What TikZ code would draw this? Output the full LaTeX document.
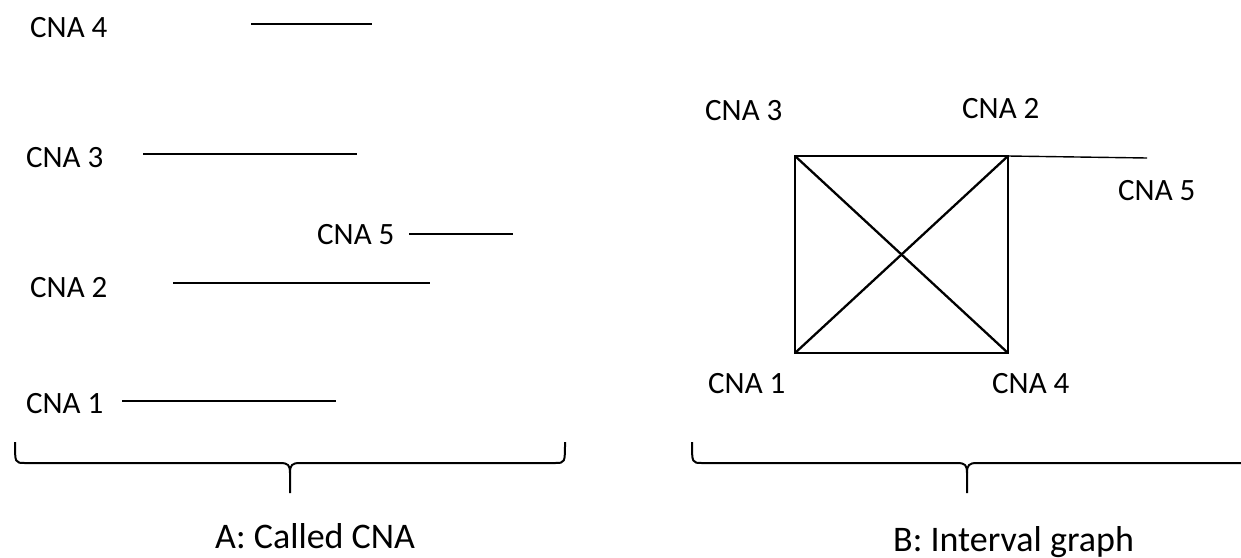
\documentclass[tikz,border=0pt]{standalone}
\usepackage{fontspec}
\setmainfont{Carlito}
\begin{document}
\begin{tikzpicture}[x=1pt,y=-1pt,
  lbl/.style={inner sep=0pt,anchor=base west,font=\fontsize{31}{37}\selectfont},
  paneltitle/.style={inner sep=0pt,anchor=base west,font=\fontsize{36}{43}\selectfont},
  seg/.style={line width=2.3pt},
  brace/.style={line width=2pt,line join=round}]
\useasboundingbox (0,0) rectangle (1241,557);

% Panel A: called intervals
\node[lbl] (l4) at (30,37) {CNA 4};
\node[lbl] (l3) at (26,167) {CNA 3};
\node[lbl] (l5) at (317,244) {CNA 5};
\node[lbl] (l2) at (30,297) {CNA 2};
\node[lbl] (l1) at (26,413) {CNA 1};

\coordinate (i4a) at (251,24);  \coordinate (i4b) at (372,24);
\coordinate (i3a) at (143,154); \coordinate (i3b) at (357,154);
\coordinate (i5a) at (409,234); \coordinate (i5b) at (513,234);
\coordinate (i2a) at (173,283); \coordinate (i2b) at (430,283);
\coordinate (i1a) at (122,401); \coordinate (i1b) at (336,401);
\foreach \i in {1,...,5} \draw[seg] (i\i a) -- (i\i b);

% Panel B: interval graph
\coordinate (v3) at (795,156);
\coordinate (v2) at (1008,156);
\coordinate (v1) at (795,353);
\coordinate (v4) at (1008,353);
\coordinate (v5) at (1147,158);
\draw[seg,line join=miter] (v3) -- (v2) -- (v4) -- (v1) -- cycle;
\draw[seg] (v3) -- (v4);
\draw[seg] (v1) -- (v2);
\draw[line width=1.4pt] (v2) -- (v5);

\node[lbl] (g3) at (705,120) {CNA 3};
\node[lbl] (g2) at (962,118) {CNA 2};
\node[lbl] (g5) at (1118,200) {CNA 5};
\node[lbl] (g1) at (708,393) {CNA 1};
\node[lbl] (g4) at (992,393) {CNA 4};

% Braces
\draw[brace] (15,442) .. controls (15,463) and (15,463) .. (25,463) -- (280,463)
  .. controls (288,463) and (290,465) .. (290,473) -- (290,493);
\draw[brace] (290,473) .. controls (290,465) and (292,463) .. (300,463) -- (555,463)
  .. controls (565,463) and (565,463) .. (565,442);
\draw[brace] (692,442) .. controls (692,463) and (692,463) .. (702,463) -- (957,463)
  .. controls (965,463) and (967,465) .. (967,473) -- (967,493);
\draw[brace] (967,473) .. controls (967,465) and (969,463) .. (977,463) -- (1245,463);

\node[paneltitle] (ca) at (215,548) {A: Called CNA};
\node[paneltitle] (cb) at (893,551) {B: Interval graph};
\end{tikzpicture}
\end{document}
